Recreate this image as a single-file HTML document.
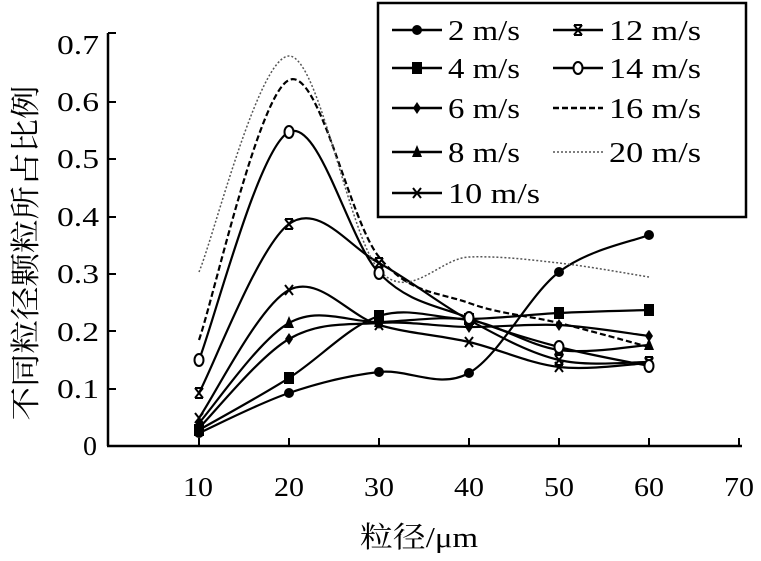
<!DOCTYPE html>
<html><head><meta charset="utf-8"><style>
body{margin:0;background:#fff;}
svg{display:block;font-family:"Liberation Serif","Noto Serif CJK SC",serif;}
</style></head><body>
<svg id="s" width="761" height="561" viewBox="0 0 761 561" xmlns="http://www.w3.org/2000/svg">
<g stroke="#000" stroke-width="2.5" fill="none">
<line x1="108" y1="33" x2="108" y2="446"/>
<line x1="107" y1="446" x2="742" y2="446"/>
</g>
<g id="ticks" stroke="#000" stroke-width="2"></g>
<g font-size="27" fill="#000">
<text x="83" y="455" textLength="14" lengthAdjust="spacingAndGlyphs">0</text>
<text x="57" y="398" textLength="42" lengthAdjust="spacingAndGlyphs">0.1</text>
<text x="57" y="341" textLength="42" lengthAdjust="spacingAndGlyphs">0.2</text>
<text x="57" y="283" textLength="42" lengthAdjust="spacingAndGlyphs">0.3</text>
<text x="57" y="226" textLength="42" lengthAdjust="spacingAndGlyphs">0.4</text>
<text x="57" y="168" textLength="42" lengthAdjust="spacingAndGlyphs">0.5</text>
<text x="57" y="111" textLength="42" lengthAdjust="spacingAndGlyphs">0.6</text>
<text x="57" y="54" textLength="42" lengthAdjust="spacingAndGlyphs">0.7</text>
</g>
<g font-size="27" fill="#000">
<text x="183" y="496" textLength="30" lengthAdjust="spacingAndGlyphs">10</text>
<text x="274" y="496" textLength="30" lengthAdjust="spacingAndGlyphs">20</text>
<text x="364" y="496" textLength="30" lengthAdjust="spacingAndGlyphs">30</text>
<text x="454" y="496" textLength="30" lengthAdjust="spacingAndGlyphs">40</text>
<text x="544" y="496" textLength="30" lengthAdjust="spacingAndGlyphs">50</text>
<text x="634" y="496" textLength="30" lengthAdjust="spacingAndGlyphs">60</text>
<text x="724" y="496" textLength="30" lengthAdjust="spacingAndGlyphs">70</text>
</g>
<text x="360" y="547" font-size="29" textLength="118" lengthAdjust="spacingAndGlyphs">粒径/μm</text>
<text transform="translate(36,253) rotate(-90)" font-size="30" text-anchor="middle" textLength="335" lengthAdjust="spacingAndGlyphs">不同粒径颗粒所占比例</text>
<g id="series"></g>
<rect x="378" y="3" width="368" height="214" fill="#fff" stroke="#000" stroke-width="2.5"/>
<g id="legend" font-size="28"></g>
</svg>
<script>
const NS="http://www.w3.org/2000/svg";
const xs=[199,289,379,469,559,649];
const ticks=document.getElementById('ticks');
function L(p,x1,y1,x2,y2,a){const l=document.createElementNS(NS,'line');l.setAttribute('x1',x1);l.setAttribute('y1',y1);l.setAttribute('x2',x2);l.setAttribute('y2',y2);if(a)for(const k in a)l.setAttribute(k,a[k]);p.appendChild(l);}
[33,102,159,217,274,331,389].forEach(y=>L(ticks,108,y,116,y));
xs.concat([739]).forEach(x=>L(ticks,x,446,x,438));
const S=[
{n:'2 m/s',m:'fc',y:[433,393,372,373,272,235]},
{n:'4 m/s',m:'sq',y:[430,378,316,319,313,310]},
{n:'6 m/s',m:'di',y:[428,339,323,327,325,336]},
{n:'8 m/s',m:'tr',y:[423,323,322,320,350,345]},
{n:'10 m/s',m:'x',y:[418,290,325,342,367,363]},
{n:'12 m/s',m:'hx',y:[393,224,263,320,360,362]},
{n:'14 m/s',m:'oc',y:[360,132,273,318,347,366]},
{n:'16 m/s',m:'',d:'6,3',y:[340,80,257,303,323,347]},
{n:'20 m/s',m:'',d:'2,2',w:1.5,y:[272,56,270,257,263,277]},
];
function path(y){let d='M'+xs[0]+','+y[0];for(let i=0;i<5;i++){const p0=[xs[Math.max(i-1,0)],y[Math.max(i-1,0)]],p1=[xs[i],y[i]],p2=[xs[i+1],y[i+1]],p3=[xs[Math.min(i+2,5)],y[Math.min(i+2,5)]];const t=6;d+=` C${p1[0]+(p2[0]-p0[0])/t},${p1[1]+(p2[1]-p0[1])/t} ${p2[0]-(p3[0]-p1[0])/t},${p2[1]-(p3[1]-p1[1])/t} ${p2[0]},${p2[1]}`;}return d;}
function mk(g,t,x,y){let e;const s=k=>document.createElementNS(NS,k);
if(t=='fc'){e=s('circle');e.setAttribute('cx',x);e.setAttribute('cy',y);e.setAttribute('r',5);e.setAttribute('fill','#000');}
else if(t=='oc'){e=s('ellipse');e.setAttribute('cx',x);e.setAttribute('cy',y);e.setAttribute('rx',4.5);e.setAttribute('ry',6);e.setAttribute('fill','#fff');e.setAttribute('stroke','#000');e.setAttribute('stroke-width',2);}
else if(t=='sq'){e=s('rect');e.setAttribute('x',x-5);e.setAttribute('y',y-6);e.setAttribute('width',10);e.setAttribute('height',12);e.setAttribute('fill','#000');}
else if(t=='di'){e=s('polygon');e.setAttribute('points',`${x},${y-6} ${x+4},${y} ${x},${y+6} ${x-4},${y}`);e.setAttribute('fill','#000');}
else if(t=='tr'){e=s('polygon');e.setAttribute('points',`${x},${y-7} ${x+5},${y+5} ${x-5},${y+5}`);e.setAttribute('fill','#000');}
else if(t=='x'||t=='hx'){e=s('g');e.setAttribute('stroke','#000');e.setAttribute('stroke-width',2);L(e,x-4,y-5,x+4,y+5);L(e,x-4,y+5,x+4,y-5);if(t=='hx'){L(e,x-4,y-5,x+4,y-5);L(e,x-4,y+5,x+4,y+5);}}
if(e)g.appendChild(e);}
const G=document.getElementById('series');
S.forEach(s=>{const p=document.createElementNS(NS,'path');p.setAttribute('d',path(s.y));p.setAttribute('fill','none');p.setAttribute('stroke',s.d=='2,2'?'#555':'#000');p.setAttribute('stroke-width',s.w||2.2);if(s.d)p.setAttribute('stroke-dasharray',s.d);G.appendChild(p);});
S.forEach(s=>{if(s.m)s.y.forEach((y,i)=>mk(G,s.m,xs[i],y));});
const LG=document.getElementById('legend');
const pos=[[392,30],[392,68],[392,108],[392,152],[392,193],[553,30],[553,68],[553,108],[553,152]];
S.forEach((s,i)=>{const [x,y]=pos[i];L(LG,x,y,x+50,y,{stroke:s.d=='2,2'?'#555':'#000','stroke-width':s.w||2.5,'stroke-dasharray':s.d||''});if(s.m)mk(LG,s.m,x+25,y);const t=document.createElementNS(NS,'text');t.setAttribute('x',x+56);t.setAttribute('y',y+10);t.setAttribute('textLength',s.n.length==5?72:92);t.setAttribute('lengthAdjust','spacingAndGlyphs');t.textContent=s.n;LG.appendChild(t);});
</script>
</body></html>
